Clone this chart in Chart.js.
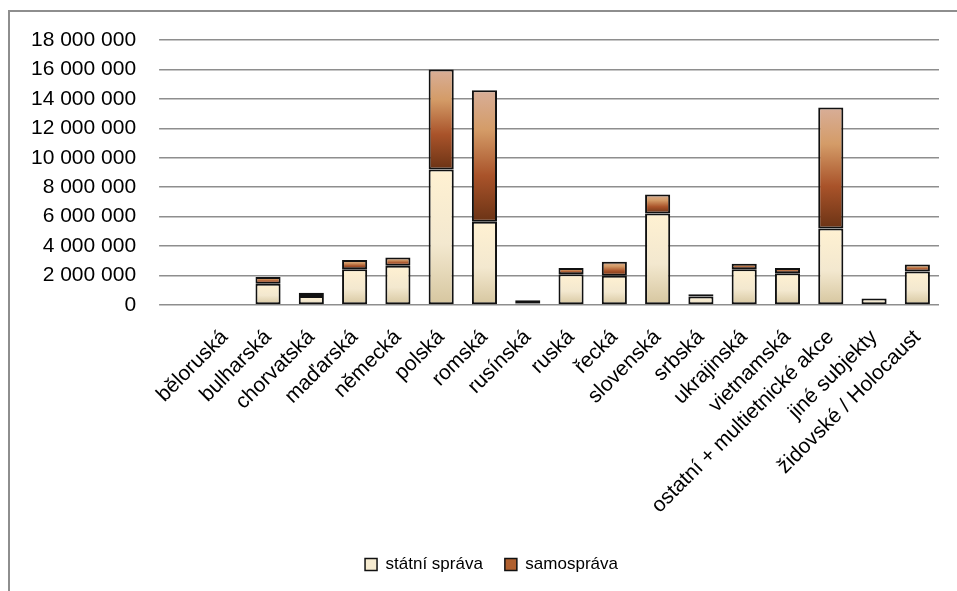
<!DOCTYPE html>
<html>
<head>
<meta charset="utf-8">
<script src="https://cdn.jsdelivr.net/npm/chart.js@4.4.1/dist/chart.umd.min.js"></script>
<style>
  html, body { margin: 0; padding: 0; background: #fff; }
  #wrap { position: relative; width: 957px; height: 591px; }
  #frame { position: absolute; left: 8px; top: 10px; right: 0; bottom: 0;
           border-left: 2px solid #8e8e8e; border-top: 2px solid #8e8e8e; }
  canvas { position: absolute; left: 0; top: 0; }
</style>
</head>
<body>
<div id="wrap">
  <div id="frame"></div>
  <canvas id="chart" width="957" height="591"></canvas>
</div>
<script>
// categories (národnostní menšiny)
const categories = [
  "běloruská", "bulharská", "chorvatská", "maďarská", "německá", "polská",
  "romská", "rusínská", "ruská", "řecká", "slovenská", "srbská",
  "ukrajinská", "vietnamská", "ostatní + multietnické akce", "jiné subjekty",
  "židovské / Holocaust"
];

// series values (Kč)
const statniSprava = [
  0, 1450000, 610000, 2430000, 2660000, 9200000,
  5660000, 100000, 2090000, 1980000, 6220000, 570000,
  2430000, 2160000, 5200000, 450000, 2270000
];
const samosprava = [
  0, 460000, 230000, 620000, 570000, 6800000,
  8930000, 230000, 430000, 950000, 1280000, 160000,
  370000, 360000, 8210000, 0, 480000
];

const yTicks = [0, 2000000, 4000000, 6000000, 8000000, 10000000, 12000000, 14000000, 16000000, 18000000];

const fmt = (v) => String(v).replace(/\B(?=(\d{3})+(?!\d))/g, " ");

// vertical gradient spanning one bar segment
function segmentGradient(ctx, stops, base, top) {
  const chart = ctx.chart;
  const y = chart.scales.y;
  if (!y || !chart.chartArea) return stops[0][1];
  const y0 = y.getPixelForValue(base);
  const y1 = y.getPixelForValue(top);
  if (!isFinite(y0) || !isFinite(y1) || y0 === y1) return stops[0][1];
  const g = chart.ctx.createLinearGradient(0, y1, 0, y0);
  stops.forEach(([p, c]) => g.addColorStop(p, c));
  return g;
}

const creamStops = [[0, "#fff1d2"], [0.55, "#f3e8cf"], [1, "#d6c69f"]];
const brownStops = [[0, "#d8ae98"], [0.3, "#d49c68"], [0.65, "#a9532a"], [1, "#6b3315"]];

// legend sits a bit right of centre in the original
const legendShift = {
  id: "legendShift",
  afterLayout(chart) {
    if (chart.legend) {
      chart.legend.left += 18;
      chart.legend.right += 18;
    }
  }
};

new Chart(document.getElementById("chart"), {
  type: "bar",
  data: {
    labels: categories,
    datasets: [
      {
        label: "státní správa",
        data: statniSprava,
        backgroundColor: (c) => c.type === "data"
          ? segmentGradient(c, creamStops, 0, statniSprava[c.dataIndex])
          : "#f6ebd0",
        borderColor: "#111",
        borderWidth: 2,
        borderSkipped: false,
        barPercentage: 0.58,
        categoryPercentage: 1
      },
      {
        label: "samospráva",
        data: samosprava,
        backgroundColor: (c) => c.type === "data"
          ? segmentGradient(c, brownStops, statniSprava[c.dataIndex],
              statniSprava[c.dataIndex] + samosprava[c.dataIndex])
          : "#b0602f",
        borderColor: "#111",
        borderWidth: 2,
        borderSkipped: false,
        barPercentage: 0.58,
        categoryPercentage: 1
      }
    ]
  },
  plugins: [legendShift],
  options: {
    responsive: false,
    animation: false,
    layout: { padding: { left: 8, right: 18, top: 40, bottom: 8 } },
    plugins: {
      legend: {
        position: "bottom",
        labels: {
          color: "#000",
          font: { family: "Liberation Sans, Arial, sans-serif", size: 17 },
          boxWidth: 12,
          boxHeight: 12,
          padding: 22,
          generateLabels: (chart) => [
            { text: "státní správa", fillStyle: "#f6ebd0", strokeStyle: "#111", lineWidth: 1.5, datasetIndex: 0 },
            { text: "samospráva", fillStyle: "#b0602f", strokeStyle: "#111", lineWidth: 1.5, datasetIndex: 1 }
          ]
        }
      },
      tooltip: { enabled: false }
    },
    scales: {
      x: {
        stacked: true,
        grid: { display: false },
        border: { display: false },
        ticks: {
          color: "#000",
          font: { family: "Liberation Sans, Arial, sans-serif", size: 21 },
          maxRotation: 45,
          minRotation: 45,
          autoSkip: false,
          padding: 12
        },
        afterFit: (s) => { s.height = 229; }
      },
      y: {
        stacked: true,
        min: 0,
        max: 18000000,
        afterBuildTicks: (s) => { s.ticks = yTicks.map((v) => ({ value: v })); },
        grid: { color: "#8e8e8e", lineWidth: 1.6, drawTicks: true, tickLength: 44, tickColor: "#8e8e8e" },
        border: { display: false },
        ticks: {
          color: "#000",
          font: { family: "Liberation Sans, Arial, sans-serif", size: 21 },
          padding: 23,
          callback: (v) => fmt(v)
        }
      }
    }
  }
});
</script>
</body>
</html>
